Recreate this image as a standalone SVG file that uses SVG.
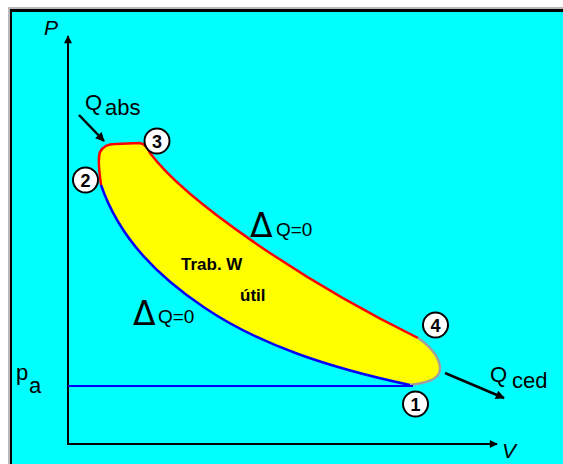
<svg xmlns="http://www.w3.org/2000/svg" width="563" height="464" viewBox="0 0 563 464">
<defs>
<style>
text{font-family:"Liberation Sans",Arial,sans-serif;fill:#000}
.lbl{font-size:22px}
.num{font-size:18px;font-weight:bold;text-anchor:middle}
.circ{fill:#fff;stroke:#000;stroke-width:2}
.ax{stroke:#000;stroke-width:2;fill:none}
.arr{stroke:#000;stroke-width:2.5;fill:none}
.dq{font-size:19px}
.delta{font-family:"DejaVu Sans",sans-serif;font-size:33px}
</style>
<marker id="ah" viewBox="0 0 10 10" refX="9" refY="5" markerWidth="9" markerHeight="8" markerUnits="userSpaceOnUse" orient="auto">
<path d="M0,0 L10,5 L0,10 z" fill="#000"/>
</marker>
<marker id="ah2" viewBox="0 0 10 10" refX="9" refY="5" markerWidth="11" markerHeight="9" markerUnits="userSpaceOnUse" orient="auto">
<path d="M0,0 L10,5 L0,10 z" fill="#000"/>
</marker>
</defs>
<rect x="0" y="0" width="563" height="464" fill="#fff"/>
<rect x="8" y="7" width="555" height="457" fill="#b8b8b8"/>
<rect x="10" y="9" width="553" height="455" fill="#000"/>
<rect x="12" y="12" width="551" height="452" fill="#00ffff"/>

<g id="cycle">
<path d="M410,385 C330,368 260,345 205,308 C160,278 120,240 100,183 C100,175 97,160 100,152 C103,146 108,144 115,144 L140,143 C145,144 148,148 150,153 C185,200 300,280 418,338 C432,347 441,360 440,370 C439,380 425,383 410,385 Z" fill="#ffff00" stroke="none"/>
<path d="M410,385 C330,368 260,345 205,308 C160,278 120,240 101,185" fill="none" stroke="#0000ff" stroke-width="2.5"/>
<path d="M101,185 C100,175 97,160 100,152 C103,146 108,144 115,144 L140,143 C145,144 148,148 150,153 C185,200 300,280 418,338" fill="none" stroke="#ff0000" stroke-width="2.5"/>
<path d="M418,338 C432,347 441,360 440,370 C439,380 425,383 410,385" fill="none" stroke="#a0a0a0" stroke-width="2.5"/>
</g>

<g id="connectors">
<line class="ax" x1="68" y1="444" x2="68" y2="36" marker-end="url(#ah)"/>
<line class="ax" x1="67" y1="444" x2="497" y2="444" marker-end="url(#ah)"/>
<line x1="68" y1="386" x2="413" y2="386" stroke="#0000ff" stroke-width="2"/>
<line class="arr" x1="79" y1="115" x2="104" y2="141" marker-end="url(#ah2)"/>
<line class="arr" x1="445" y1="373" x2="504" y2="398" marker-end="url(#ah2)"/>
</g>

<g id="node1"><circle class="circ" cx="415.5" cy="404" r="12.5"/><text class="num" x="415.5" y="410.5">1</text></g>
<g id="node2"><circle class="circ" cx="85.5" cy="180" r="12.5"/><text class="num" x="85.5" y="186.5">2</text></g>
<g id="node3"><circle class="circ" cx="157" cy="141" r="12.5"/><text class="num" x="157" y="147.5">3</text></g>
<g id="node4"><circle class="circ" cx="435.5" cy="325" r="12.5"/><text class="num" x="435.5" y="331.5">4</text></g>

<g id="labels">
<text x="44" y="35" font-size="21" font-style="italic">P</text>
<text x="502" y="458" font-size="21" font-style="italic">V</text>
<text class="lbl" x="16" y="380">p</text>
<text class="lbl" x="29" y="393">a</text>
<text class="lbl" x="85" y="110">Q</text>
<text class="lbl" x="105" y="115">abs</text>
<text class="lbl" x="490" y="382">Q</text>
<text class="lbl" x="512" y="388">ced</text>
<text class="delta" x="250" y="237">Δ</text>
<text class="dq" x="276" y="236">Q=0</text>
<text class="delta" x="133" y="325">Δ</text>
<text class="dq" x="158" y="323">Q=0</text>
<text x="181" y="270" font-size="17" font-weight="bold">Trab. W</text>
<text x="240" y="301" font-size="17" font-weight="bold">útil</text>
</g>
</svg>
